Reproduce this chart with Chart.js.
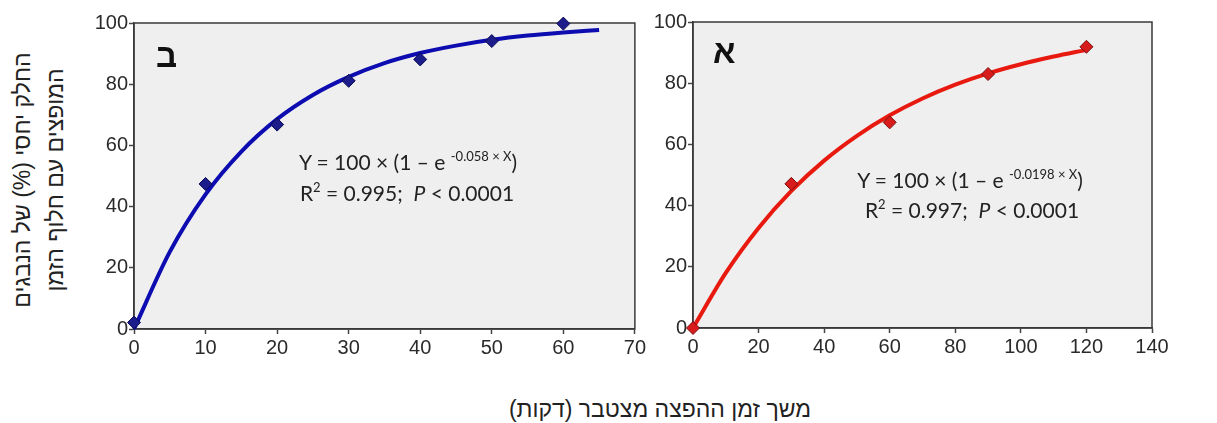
<!DOCTYPE html>
<html><head><meta charset="utf-8">
<script src="https://cdn.jsdelivr.net/npm/chart.js@4/dist/chart.umd.min.js"></script>
<style>
html,body{margin:0;padding:0;background:#fff;width:1217px;height:423px;overflow:hidden;position:relative;font-family:"Liberation Sans",Arial,sans-serif;}
.box{position:absolute;}
.ann{position:absolute;font-family:Lato,"Open Sans",sans-serif;font-size:21px;color:#222;white-space:nowrap;text-align:center;transform:translateX(-50%);line-height:31px;}
.ann sup{font-size:13px;vertical-align:0;position:relative;top:-9px;}
.letter{position:absolute;font-family:"Liberation Sans",Arial,sans-serif;font-weight:bold;font-size:33px;color:#111;direction:rtl;}
#ytitle{position:absolute;left:39px;top:180px;transform:translate(-50%,-50%) rotate(-90deg);font-size:23px;color:#222;direction:rtl;text-align:center;white-space:nowrap;line-height:33px;}
#xtitle{position:absolute;left:660px;top:409px;transform:translate(-50%,-50%);font-size:23px;color:#222;direction:rtl;white-space:nowrap;}
</style></head>
<body>
<div class="box" style="left:84px;top:10px;width:564px;height:359px;"><canvas id="cB"></canvas></div>
<div class="box" style="left:643px;top:9px;width:529px;height:359px;"><canvas id="cA"></canvas></div>
<div class="letter" style="left:156px;top:37px;">ב</div>
<div class="letter" style="left:713px;top:33px;">א</div>
<div class="ann" style="left:408px;top:146px;">Y = 100 × (1 – e <sup>-0.058 × X</sup>)</div>
<div class="ann" style="left:407px;top:177px;">R<sup>2</sup> = 0.995;&nbsp; <i>P</i> &lt; 0.0001</div>
<div class="ann" style="left:970px;top:164px;">Y = 100 × (1 – e <sup>-0.0198 × X</sup>)</div>
<div class="ann" style="left:972px;top:194px;">R<sup>2</sup> = 0.997;&nbsp; <i>P</i> &lt; 0.0001</div>
<div id="ytitle">החלק יחסי (%) של הנבגים<br>המופצים עם חלוף הזמן</div>
<div id="xtitle">משך זמן ההפצה מצטבר (דקות)</div>
<script>
// Panel ב (left)
const timeB = [0, 10, 20, 30, 40, 50, 60];
const pctB = [2.1, 47.4, 66.8, 81.1, 88.1, 94.1, 99.8];
const fitTimeB = [0, 5, 10, 15, 20, 25, 30, 35, 40, 45, 50, 55, 60, 65];
const fitPctB = [0, 25.2, 44, 58, 68.6, 76.5, 82.4, 86.9, 90.2, 92.6, 94.5, 95.9, 96.9, 97.7];
const xTicksB = [0, 10, 20, 30, 40, 50, 60, 70];
// Panel א (right)
const timeA = [0, 30, 60, 90, 120];
const pctA = [0, 47.1, 67.2, 83.0, 91.9];
const fitTimeA = [0, 10, 20, 30, 40, 50, 60, 70, 80, 90, 100, 110, 120];
const fitPctA = [0, 18, 32.7, 44.8, 54.7, 62.8, 69.5, 75, 79.5, 83.2, 86.2, 88.7, 90.9];
const xTicksA = [0, 20, 40, 60, 80, 100, 120, 140];
const yTicks = [0, 20, 40, 60, 80, 100];

const pairs = (xs, ys) => xs.map((x, i) => ({x, y: ys[i]}));

const framePlugin = {
  id: 'frame',
  beforeDraw(chart) {
    const {ctx, chartArea: a} = chart;
    ctx.save();
    ctx.fillStyle = '#efefef';
    ctx.fillRect(a.left, a.top, a.right - a.left, a.bottom - a.top);
    ctx.restore();
  },
  beforeDatasetsDraw(chart) {
    const {ctx, chartArea: a} = chart;
    ctx.save();
    ctx.strokeStyle = '#3a3a3a';
    ctx.lineWidth = 1.5;
    ctx.strokeRect(a.left, a.top, a.right - a.left, a.bottom - a.top);
    ctx.restore();
  }
};

function makeChart(id, fitX, fitY, px, py, xTicks, xMax, lineColor, ptFill, ptBorder, padRight) {
  return new Chart(document.getElementById(id), {
    type: 'scatter',
    data: {
      datasets: [
        {
          data: pairs(fitX, fitY), showLine: true, borderColor: lineColor, borderWidth: 4,
          pointRadius: 0, cubicInterpolationMode: 'monotone', clip: false, order: 2
        },
        {
          data: pairs(px, py), pointStyle: 'rectRot', pointRadius: 6.5,
          backgroundColor: ptFill, borderColor: ptBorder, borderWidth: 1, clip: false, order: 1
        }
      ]
    },
    options: {
      responsive: true, maintainAspectRatio: false, animation: false,
      layout: {padding: {top: 10, right: padRight, left: 0, bottom: 0}},
      plugins: {legend: {display: false}, tooltip: {enabled: false}},
      scales: {
        x: {
          type: 'linear', min: 0, max: xMax,
          afterBuildTicks: s => { s.ticks = xTicks.map(v => ({value: v})); },
          afterFit: s => { s.height = 40; },
          grid: {drawOnChartArea: false, drawTicks: true, tickLength: 5, color: '#444', tickWidth: 1.5},
          border: {color: '#3a3a3a', width: 1.5},
          ticks: {padding: 2, color: '#2a2a2a', font: {family: '"Liberation Sans", Arial', size: 20}, maxRotation: 0}
        },
        y: {
          type: 'linear', min: 0, max: 100,
          afterBuildTicks: s => { s.ticks = yTicks.map(v => ({value: v})); },
          afterFit: s => { s.width = 50; },
          grid: {drawOnChartArea: false, drawTicks: true, tickLength: 5, color: '#444', tickWidth: 1.5},
          border: {color: '#3a3a3a', width: 1.5},
          ticks: {padding: 1, color: '#2a2a2a', font: {family: '"Liberation Sans", Arial', size: 20}}
        }
      }
    },
    plugins: [framePlugin]
  });
}

makeChart('cB', fitTimeB, fitPctB, timeB, pctB, xTicksB, 70, '#0c0cb0', '#1c1c8a', '#0a0a55', 12);
makeChart('cA', fitTimeA, fitPctA, timeA, pctA, xTicksA, 140, '#e81a10', '#d81c1c', '#7a1010', 20);
</script>
</body></html>
